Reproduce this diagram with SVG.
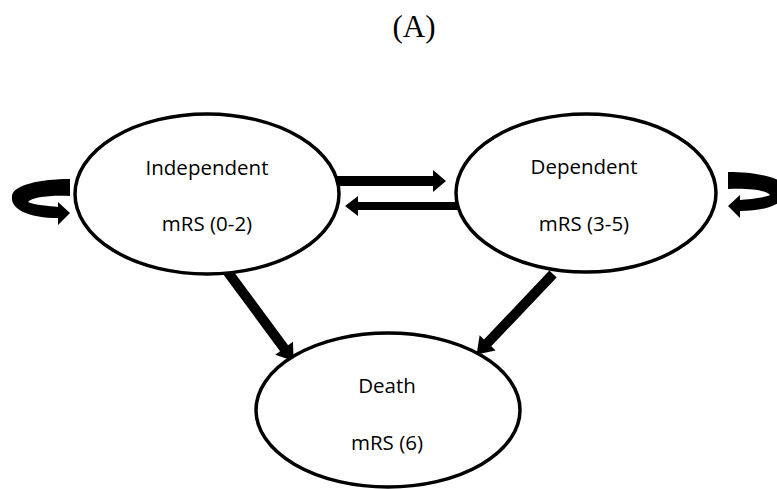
<svg xmlns="http://www.w3.org/2000/svg" width="777" height="489" viewBox="0 0 777 489">
<style>
.node{fill:#fff;stroke:#000;stroke-width:3.5}
.lbl{font-family:"Open Sans","Liberation Sans",sans-serif;font-size:20.5px;fill:#000;text-anchor:middle}
.title{font-family:"Liberation Serif","Times New Roman",serif;font-size:31px;fill:#000;text-anchor:middle}
.shaft{fill:#000}
</style>
<rect width="777" height="489" fill="#fff"/>
<text class="title" x="414" y="37">(A)</text>
<g id="connectors">
  <!-- Independent -> Dependent -->
  <path class="shaft" d="M336 176 L433 176 L433 170 L446 181 L433 192 L433 186 L336 186 Z"/>
  <!-- Dependent -> Independent -->
  <path class="shaft" d="M458 202 L358 202 L358 196 L345 206 L358 216 L358 210 L458 210 Z"/>
  <!-- Independent -> Death -->
  <g transform="translate(227,271) rotate(53.5)">
    <path class="shaft" d="M0 -5 L96 -5 L96 -11 L112 0 L96 11 L96 5 L0 5 Z"/>
  </g>
  <!-- Dependent -> Death -->
  <g transform="translate(553,274) rotate(133.5)">
    <path class="shaft" d="M0 -5 L95 -5 L95 -11 L111 0 L95 11 L95 5 L0 5 Z"/>
  </g>
  <!-- Independent self loop -->
  <path id="loopL" class="shaft" d="M70 179 L70 196 C50 195 32 197 28 202 C34 205 50 206 58 207 L58 202 L70 213 L58 225 L58 218 C30 218 10 210 12 196 C13 185 40 179 70 179 Z"/>
  <!-- Dependent self loop -->
  <g transform="translate(798,-7) scale(-1,1)">
    <path class="shaft" d="M70 179 L70 196 C50 195 32 197 28 202 C34 205 50 206 58 207 L58 202 L70 213 L58 225 L58 218 C30 218 10 210 12 196 C13 185 40 179 70 179 Z"/>
  </g>
</g>
<g id="independent">
  <ellipse class="node" cx="207" cy="194" rx="132" ry="80"/>
  <text class="lbl" x="207" y="175">Independent</text>
  <text class="lbl" x="207" y="231">mRS (0-2)</text>
</g>
<g id="dependent">
  <ellipse class="node" cx="586" cy="193" rx="130" ry="79"/>
  <text class="lbl" x="584" y="174">Dependent</text>
  <text class="lbl" x="584" y="231">mRS (3-5)</text>
</g>
<g id="death">
  <ellipse class="node" cx="388" cy="410" rx="132" ry="77"/>
  <text class="lbl" x="387" y="393">Death</text>
  <text class="lbl" x="387" y="450">mRS (6)</text>
</g>
</svg>
